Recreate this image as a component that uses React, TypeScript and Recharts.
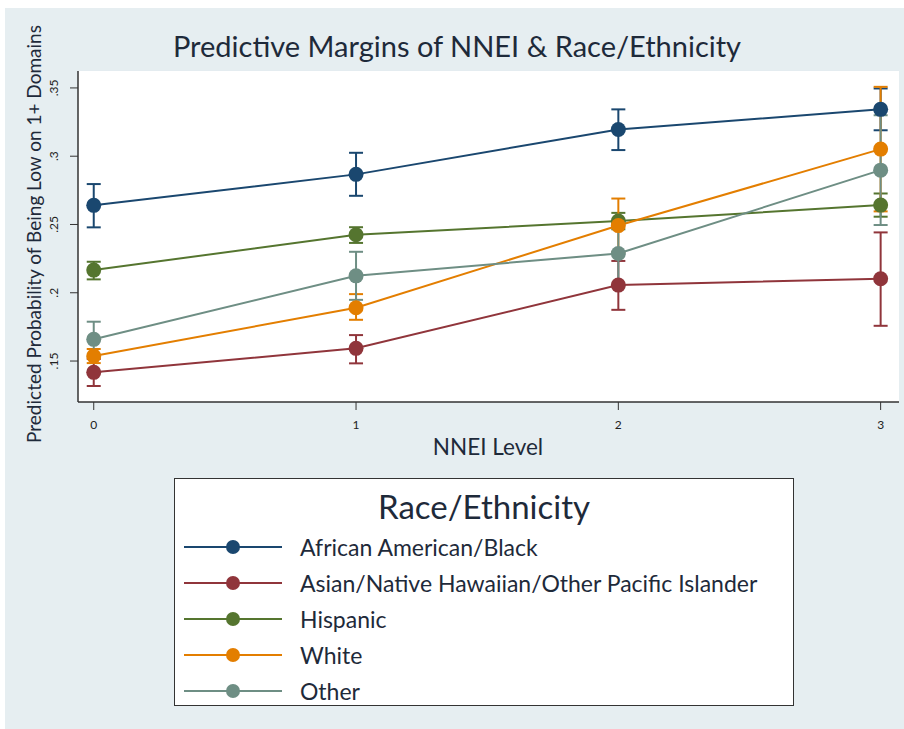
import React from 'react';
import { LineChart, Line, XAxis, YAxis, CartesianGrid, ErrorBar } from 'recharts';

// NNEI level categories
const levels = [0, 1, 2, 3];

// predicted margins (point estimates) per group
const blackVals = [0.264, 0.2867, 0.3196, 0.3343];
const asianVals = [0.1417, 0.1593, 0.2056, 0.2103];
const hispanicVals = [0.2166, 0.2425, 0.2525, 0.2642];
const whiteVals = [0.1537, 0.189, 0.2492, 0.3052];
const otherVals = [0.1659, 0.2124, 0.2288, 0.2898];

// confidence interval bounds
const blackLo = [0.2479, 0.271, 0.3045, 0.319];
const blackHi = [0.2796, 0.3025, 0.3343, 0.3496];
const asianLo = [0.1317, 0.1483, 0.1875, 0.1758];
const asianHi = [0.1515, 0.169, 0.2233, 0.2442];
const hispanicLo = [0.2098, 0.2365, 0.2465, 0.2557];
const hispanicHi = [0.2227, 0.248, 0.2585, 0.2727];
const whiteLo = [0.1485, 0.1802, 0.2298, 0.2596];
const whiteHi = [0.1588, 0.199, 0.269, 0.3508];
const otherLo = [0.153, 0.1948, 0.2052, 0.2496];
const otherHi = [0.1788, 0.23, 0.2524, 0.33];

const yTicks = [0.15, 0.2, 0.25, 0.3, 0.35];
const yTickLabels = ['.15', '.2', '.25', '.3', '.35'];

const series = [
  { key: 'black', name: 'African American/Black', color: '#1a476f', vals: blackVals, lo: blackLo, hi: blackHi },
  { key: 'asian', name: 'Asian/Native Hawaiian/Other Pacific Islander', color: '#90353b', vals: asianVals, lo: asianLo, hi: asianHi },
  { key: 'hispanic', name: 'Hispanic', color: '#55752f', vals: hispanicVals, lo: hispanicLo, hi: hispanicHi },
  { key: 'white', name: 'White', color: '#e37e00', vals: whiteVals, lo: whiteLo, hi: whiteHi },
  { key: 'other', name: 'Other', color: '#6e8e84', vals: otherVals, lo: otherLo, hi: otherHi },
];

// build the row table recharts needs
const chartData = levels.map((lvl, i) => {
  const row: any = { level: lvl };
  series.forEach(s => {
    row[s.key] = s.vals[i];
    row[s.key + 'Err'] = [s.vals[i] - s.lo[i], s.hi[i] - s.vals[i]];
  });
  return row;
});

const FONT = 'Lato, "Open Sans", sans-serif';
const BG = '#e6eef1';

const YTick = (props: any) => {
  const { y, payload } = props;
  const idx = yTicks.indexOf(payload.value);
  return (
    <text
      x={0}
      y={0}
      transform={`translate(58, ${y}) rotate(-90)`}
      textAnchor="middle"
      fontSize={12}
      fill="#222"
      fontFamily={FONT}
    >
      {idx >= 0 ? yTickLabels[idx] : payload.value}
    </text>
  );
};

const XTick = (props: any) => {
  const { x, payload } = props;
  return (
    <text x={x} y={429} textAnchor="middle" fontSize={12} fill="#222" fontFamily={FONT}>
      {payload.value}
    </text>
  );
};

const App = () => {
  return (
    <div style={{ position: 'absolute', left: 0, top: 0, width: 904, height: 729, background: '#fff', fontFamily: FONT }}>
      <div style={{ position: 'absolute', left: 5, top: 8, width: 899, height: 721, background: BG }} />

      {/* Title */}
      <div style={{ position: 'absolute', left: 5, top: 28, width: 904, textAlign: 'center', fontSize: 29, color: '#1e2a3a' }}>
        Predictive Margins of NNEI &amp; Race/Ethnicity
      </div>

      <div style={{ position: 'absolute', left: 0, top: 0 }}>
        <LineChart
          width={904}
          height={729}
          data={chartData}
          margin={{ top: 71, right: 5, left: 38, bottom: 297 }}
        >
          <rect x={78} y={71} width={821} height={331} fill="#fff" />
          <CartesianGrid horizontal vertical={false} stroke="#e3ebef" strokeWidth={1.5} />
          <XAxis
            dataKey="level"
            type="number"
            domain={[-0.06, 3.07]}
            ticks={levels}
            allowDataOverflow
            height={30}
            tickSize={8}
            tickLine={{ stroke: '#333' }}
            axisLine={{ stroke: '#333', strokeWidth: 1.5 }}
            tick={<XTick />}
          />
          <YAxis
            type="number"
            domain={[0.12, 0.3624]}
            ticks={yTicks}
            allowDataOverflow
            width={40}
            tickSize={8}
            tickLine={{ stroke: '#333' }}
            axisLine={{ stroke: '#333', strokeWidth: 1.5 }}
            tick={<YTick />}
          />
          {/* confidence intervals first, lines and markers on top */}
          {series.map(s => (
            <Line
              key={s.key + '-ci'}
              dataKey={s.key}
              stroke="none"
              dot={false}
              activeDot={false}
              isAnimationActive={false}
              legendType="none"
            >
              <ErrorBar dataKey={s.key + 'Err'} width={7} stroke={s.color} strokeWidth={2} direction="y" isAnimationActive={false} />
            </Line>
          ))}
          {series.map(s => (
            <Line
              key={s.key}
              dataKey={s.key}
              name={s.name}
              stroke={s.color}
              strokeWidth={2}
              dot={{ r: 7.5, fill: s.color, stroke: s.color, strokeWidth: 0 }}
              activeDot={false}
              isAnimationActive={false}
            />
          ))}
        </LineChart>
      </div>

      {/* Y axis title */}
      <div
        style={{
          position: 'absolute',
          left: 33,
          top: 234,
          transform: 'translate(-50%, -50%) rotate(-90deg)',
          whiteSpace: 'nowrap',
          fontSize: 19,
          color: '#1e2a3a',
        }}
      >
        Predicted Probability of Being Low on 1+ Domains
      </div>

      {/* X axis title */}
      <div style={{ position: 'absolute', left: 388, top: 433, width: 200, textAlign: 'center', fontSize: 22.5, color: '#1e2a3a' }}>
        NNEI Level
      </div>

      {/* Legend */}
      <div
        style={{
          position: 'absolute',
          left: 174,
          top: 478,
          width: 620,
          height: 228,
          background: '#fff',
          border: '1.5px solid #333',
          boxSizing: 'border-box',
        }}
      >
        <div style={{ position: 'absolute', left: 0, top: 7, width: '100%', textAlign: 'center', fontSize: 33, color: '#1e2a3a' }}>
          Race/Ethnicity
        </div>
        {series.map((s, i) => (
          <div key={s.key} style={{ position: 'absolute', left: 9, top: 54 + i * 36, height: 28, display: 'flex', alignItems: 'center' }}>
            <svg width={100} height={20} style={{ display: 'block' }}>
              <line x1={0} y1={10} x2={98} y2={10} stroke={s.color} strokeWidth={2} />
              <circle cx={49} cy={10} r={7} fill={s.color} />
            </svg>
            <span style={{ marginLeft: 16, fontSize: 23, color: '#1e2a3a', whiteSpace: 'nowrap' }}>{s.name}</span>
          </div>
        ))}
      </div>
    </div>
  );
};

export default App;
